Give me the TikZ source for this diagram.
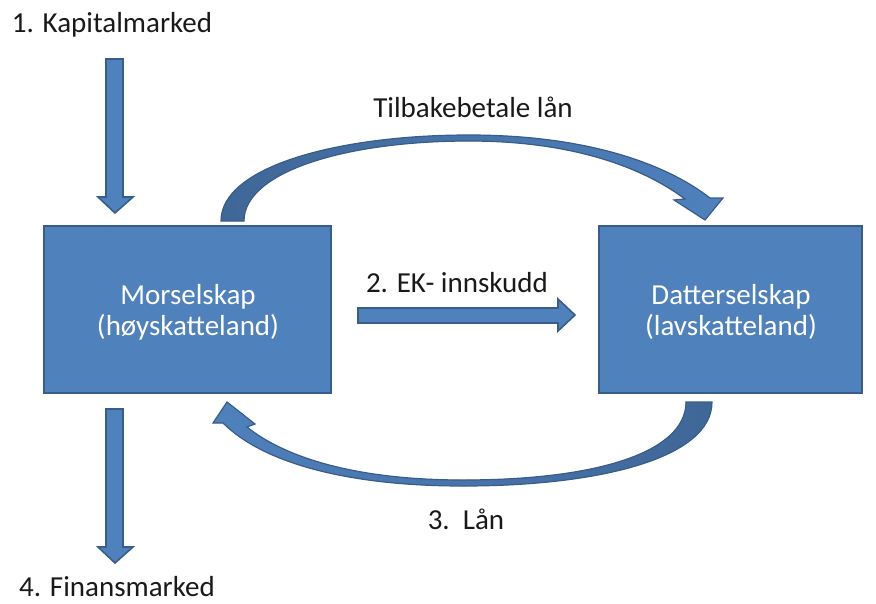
\documentclass[tikz,border=0pt]{standalone}
\usepackage{fontspec}
\setmainfont{Carlito}
\begin{document}
\definecolor{boxblue}{HTML}{4F81BD}
\definecolor{edgeblue}{HTML}{385D8A}
\definecolor{darkblue}{HTML}{3F6797}
\begin{tikzpicture}[x=1pt,y=-1pt,
  lbl/.style={font=\fontsize{29}{33}\selectfont, text=black!90, inner sep=0pt},
  firm/.style={draw=edgeblue, line width=2pt, fill=boxblue, text=white,
    font=\fontsize{29}{31}\selectfont, align=center, inner sep=0pt},
  blockarrow/.style={draw=edgeblue, line width=1.6pt, line join=miter, fill=boxblue},
]
\useasboundingbox (0,0) rectangle (876,603);

% the two companies
\node[firm, minimum width=287pt, minimum height=167pt] (mor) at (187.5,309.5) {};
\node[firm, minimum width=263pt, minimum height=167pt] (dat) at (730.5,309.5) {};
\node[firm, draw=none, fill=none] (mortxt) at (188,312) {Morselskap\\(høyskatteland)};
\node[firm, draw=none, fill=none] (dattxt) at (731,312) {Datterselskap\\(lavskatteland)};

% labels
\node[lbl] (kap) at (112,25) {1. Kapitalmarked};
\node[lbl] (fin) at (117,587) {4. Finansmarked};
\node[lbl] (tilb) at (473,107) {Tilbakebetale lån};
\node[lbl] (ek) at (457,283) {2. EK- innskudd};
\node[lbl] (lan) at (466,519) {3.\ \ Lån};

% capital market into the parent
\draw[blockarrow] (106,59) -- (123,59) -- (123,197) -- (133,197) -- (115,213)
  -- (98,197) -- (106,197) -- cycle;
% parent out to the financial market
\draw[blockarrow] (106,409) -- (123,409) -- (123,547) -- (133,547) -- (115,563)
  -- (98,547) -- (106,547) -- cycle;
% equity contribution to the subsidiary
\draw[blockarrow] (358,308) -- (558,308) -- (558,299) -- (575,315) -- (558,331)
  -- (558,323) -- (358,323) -- cycle;

% repayment of the loan, curving over the top
\draw[blockarrow, line width=1.2pt, left color=darkblue, right color=boxblue]
  (221,221) .. controls (221,166) and (340,135) .. (469,135)
  .. controls (585,135) and (665,163) .. (710,198)
  -- (723,198) -- (705,220) -- (674,200) -- (685,199)
  .. controls (642,167) and (572,141) .. (469,141)
  .. controls (345,141) and (244,172) .. (244,221) -- cycle;

% loan from the subsidiary, curving underneath
\draw[blockarrow, line width=1.2pt, left color=boxblue, right color=darkblue]
  (712,402) .. controls (712,458) and (600,486) .. (463,486)
  .. controls (345,486) and (262,462) .. (223,423)
  -- (213,423) -- (227,402) -- (255,424) -- (247,427)
  .. controls (283,456) and (352,480) .. (463,480)
  .. controls (598,480) and (686,452) .. (686,402) -- cycle;
\end{tikzpicture}
\end{document}
